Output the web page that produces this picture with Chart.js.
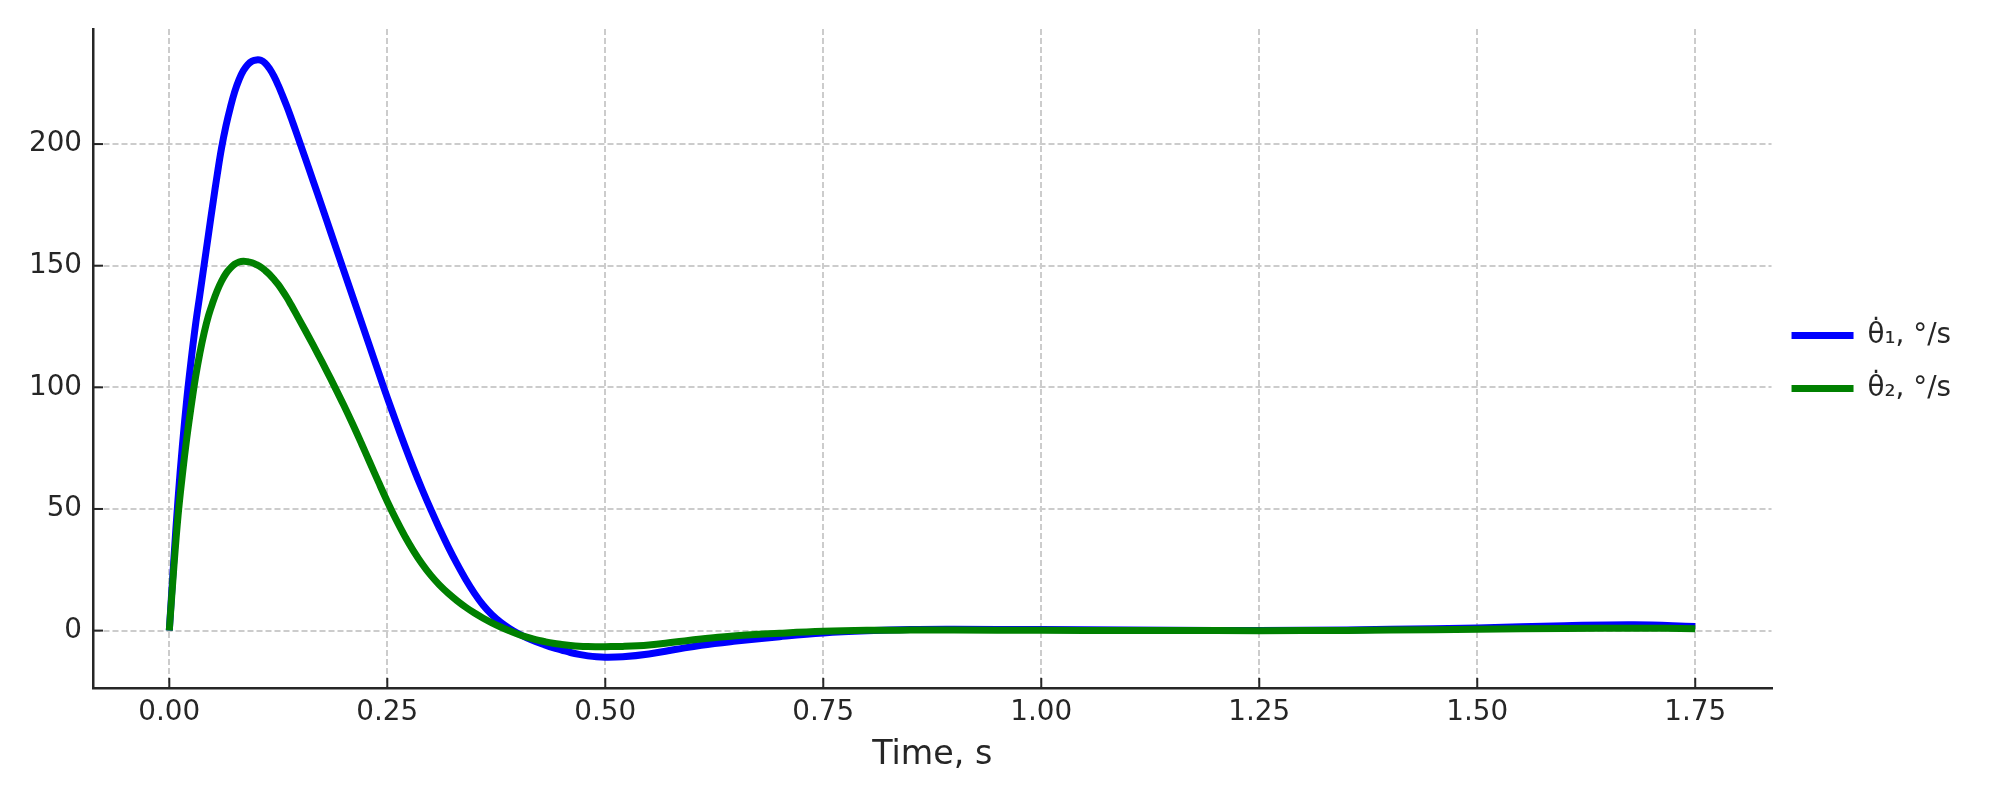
<!DOCTYPE html>
<html>
<head>
<meta charset="utf-8">
<script src="https://cdn.jsdelivr.net/npm/chart.js@4"></script>
<style>
  html, body { margin: 0; padding: 0; background: #fff; }
  #wrap { width: 2000px; height: 800px; }
</style>
</head>
<body>
<div id="wrap"><canvas id="chart" width="2000" height="800"></canvas></div>
<script>
// time samples, s
const time = [
  0, 0.005, 0.01, 0.015, 0.02, 0.025, 0.03, 0.035, 0.04, 0.045, 0.05, 0.055, 0.06, 0.065, 0.07, 0.075,
  0.08, 0.085, 0.09, 0.095, 0.10, 0.105, 0.11, 0.115, 0.12, 0.125, 0.13, 0.135, 0.14, 0.145, 0.15,
  0.16, 0.17, 0.18, 0.19, 0.20, 0.21, 0.22, 0.23, 0.24, 0.25, 0.26, 0.27, 0.28, 0.29, 0.30, 0.31,
  0.32, 0.33, 0.34, 0.35, 0.36, 0.37, 0.38, 0.39, 0.40, 0.41, 0.42, 0.43, 0.44, 0.45, 0.46, 0.47,
  0.48, 0.49, 0.50, 0.52, 0.55, 0.58, 0.61, 0.65, 0.70, 0.75, 0.80, 0.85, 0.90, 1.00, 1.10, 1.20,
  1.30, 1.40, 1.50, 1.60, 1.68, 1.75
];

// joint 1 angular velocity, deg/s
const omega1 = [
  0, 28, 54, 76, 95, 111, 125.5, 138, 150.5, 163, 175.5, 187.5, 198.5, 207.5, 215, 221.5,
  226.5, 230.2, 232.7, 234.1, 234.6, 234.44, 233.25, 231.0, 227.9, 224.1, 219.8, 215.3, 210.45, 205.4, 200.3,
  190.0, 179.6, 169.1, 158.6, 148.1, 137.6, 127.1, 116.6, 106.1, 95.8, 85.8, 76.1, 66.8, 58.0, 49.7, 41.8,
  34.3, 27.4, 21.0, 15.3, 10.4, 6.5, 3.4, 0.9, -1.2, -3.0, -4.5, -5.8, -7.0, -8.0, -9.0, -9.8,
  -10.4, -10.8, -10.95, -10.75, -9.6, -7.8, -6.0, -4.3, -2.5, -1.0, -0.1, 0.4, 0.5, 0.4, 0.2, 0.05,
  0.1, 0.5, 1.1, 2.0, 2.4, 1.7
];

// joint 2 angular velocity, deg/s
const omega2 = [
  0, 25, 47, 64, 79, 92, 104, 114, 122.5, 129.5, 135, 139.8, 143.7, 146.8, 149, 150.6,
  151.5, 151.8, 151.6, 151.2, 150.4, 149.4, 148.0, 146.4, 144.4, 142.2, 139.6, 136.8, 133.7, 130.5, 127.2,
  120.7, 114, 107.1, 100, 92.7, 85.1, 77.2, 69.1, 61.0, 53.1, 45.7, 38.9, 32.8, 27.4, 22.7, 18.7,
  15.3, 12.3, 9.6, 7.2, 5.1, 3.2, 1.5, -0.05, -1.5, -2.7, -3.7, -4.5, -5.2, -5.7, -6.1, -6.4,
  -6.55, -6.6, -6.6, -6.5, -5.9, -4.7, -3.5, -2.1, -1.1, -0.3, 0.1, 0.2, 0.2, 0.1, 0.0, 0.0,
  0.0, 0.2, 0.5, 0.9, 1.0, 0.8
];

const seriesLabels = ["θ̇₁, °/s", "θ̇₂, °/s"];
const xTitle = "Time, s";

const textColor = "#262626";
const fontFamily = "'DejaVu Sans', sans-serif";

const toPoints = (ys) => time.map((t, i) => ({ x: t, y: ys[i] }));

// matplotlib style ticks pointing into the axes
const innerTicks = {
  id: "innerTicks",
  afterLayout(chart) {
    // keep the legend column centred on the plot area, not the whole canvas
    const lg = chart.legend;
    lg.bottom = chart.chartArea.bottom + 7;
    lg.left -= 5;
    lg.right -= 5;
  },
  afterDraw(chart) {
    const { ctx, chartArea, scales } = chart;
    ctx.save();
    ctx.strokeStyle = textColor;
    ctx.lineWidth = 2;
    scales.x.ticks.forEach((t) => {
      const px = scales.x.getPixelForValue(t.value);
      ctx.beginPath();
      ctx.moveTo(px, chartArea.bottom);
      ctx.lineTo(px, chartArea.bottom - 10);
      ctx.stroke();
    });
    scales.y.ticks.forEach((t) => {
      const py = scales.y.getPixelForValue(t.value);
      ctx.beginPath();
      ctx.moveTo(chartArea.left, py);
      ctx.lineTo(chartArea.left + 10, py);
      ctx.stroke();
    });
    ctx.restore();
  },
};

const ctx = document.getElementById("chart").getContext("2d");
new Chart(ctx, {
  type: "line",
  data: {
    datasets: [
      {
        label: seriesLabels[0],
        data: toPoints(omega1),
        borderColor: "#0000ff",
        backgroundColor: "#0000ff",
        borderWidth: 7,
        pointRadius: 0,
        tension: 0.4,
        order: 1,
      },
      {
        label: seriesLabels[1],
        data: toPoints(omega2),
        borderColor: "#008000",
        backgroundColor: "#008000",
        borderWidth: 7,
        pointRadius: 0,
        tension: 0.4,
        order: 0,
      },
    ],
  },
  options: {
    responsive: false,
    animation: false,
    layout: { padding: { top: 29, right: 34, bottom: 0, left: 0 } },
    plugins: {
      tooltip: { enabled: false },
      legend: {
        position: "right",
        labels: {
          usePointStyle: true,
          pointStyle: "line",
          pointStyleWidth: 62,
          padding: 25,
          color: textColor,
          font: { family: fontFamily, size: 27.8 },
          sort: (a, b) => a.datasetIndex - b.datasetIndex,
        },
      },
    },
    scales: {
      x: {
        type: "linear",
        min: -0.0875,
        max: 1.8375,
        afterFit: (scale) => { scale.height = 112; },
        ticks: {
          stepSize: 0.25,
          includeBounds: false,
          padding: 8,
          color: textColor,
          maxRotation: 0,
          font: { family: fontFamily, size: 27.8 },
          callback: (v) => Number(v).toFixed(2),
        },
        grid: { color: "#cccccc", lineWidth: 2, drawTicks: false },
        border: { display: true, color: textColor, width: 2.5, dash: [6, 3] },
        title: {
          display: true,
          text: xTitle,
          color: textColor,
          font: { family: fontFamily, size: 33.3 },
          padding: { top: 0, bottom: 25 },
        },
      },
      y: {
        min: -23.6,
        max: 247.3,
        afterFit: (scale) => { scale.width = 93; },
        ticks: {
          stepSize: 50,
          includeBounds: false,
          padding: 11,
          color: textColor,
          font: { family: fontFamily, size: 27.8 },
        },
        grid: { color: "#cccccc", lineWidth: 2, drawTicks: false },
        border: { display: true, color: textColor, width: 2.5, dash: [6, 3] },
      },
    },
  },
  plugins: [innerTicks],
});
</script>
</body>
</html>
